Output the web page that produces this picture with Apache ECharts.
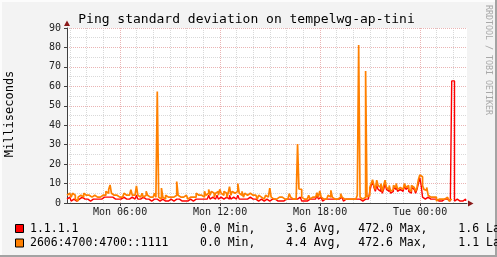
<!DOCTYPE html>
<html><head><meta charset="utf-8">
<script src="https://cdn.jsdelivr.net/npm/echarts/dist/echarts.min.js"></script>
<style>html,body{margin:0;padding:0;background:#f3f3f3}#c{width:497px;height:257px}</style>
</head><body><div id="c"></div>
<script>
// time axis: hours since Mon 00:00; samples every 5 minutes starting Mon 02:49
const startHour = 2 + 49 / 60;
const stepHours = 5 / 60;
const spanHours = 24;

const ping1111 = [
  2,3,2,1,2,3,1,1,2,2,3,2,2,3,2,2,1,2,2,1,2,2,2,1,
  2,2,3,2,3,2,3,4,3,2,2,3,2,1,2,2,3,2,2,1,2,3,3,2,
  2,3,4,2,2,1,3,2,2,3,2,2,1,2,2,3,2,2,1,1,2,1,1,2,
  1,1,2,2,1,1,2,3,2,1,1,2,1,2,1,1,2,2,1,1,2,2,2,1,
  2,3,2,3,2,3,4,2,3,2,2,3,4,2,3,3,2,3,3,2,2,4,2,3,
  3,2,3,4,2,2,3,2,3,2,2,3,3,2,1,2,2,1,2,2,1,1,2,2,
  2,1,2,2,1,2,1,1,2,1,2,1,1,2,3,2,2,2,1,2,1,2,2,3,
  2,1,1,2,1,2,2,1,2,1,2,3,4,2,3,2,1,2,1,2,3,2,3,2,
  1,2,1,2,2,3,2,1,2,1,2,1,2,1,2,1,2,2,2,2,1,1,2,2,
  2,3,6,9,11,8,6,9,7,6,8,5,7,10,7,6,8,5,6,8,7,9,6,7,
  8,6,7,9,7,8,6,5,8,7,6,5,7,10,13,9,3,2,2,3,2,2,1,2,
  1,2,1,1,2,1,1,2,1,2,1,1,1,62.8,62.8,1,2,1,1,2,1,1,2,1
];
const ping2606 = [
  4,5,4,3,5,4,2,1,3,4,4,3,5,4,3,4,3,3,2,4,3,3,4,3,
  3,4,5,4,6,5,7,9.3,5,4,3,4,5,3,4,3,4,5,4,3,4,5,6.8,4,
  4,5,8.8,4,3,4,5,3,4,6,4,3,4,3,4,5,3,57.3,3,2,7.7,3,2,4,
  3,2,3,4,3,2,4,11,4,3,2,3,2,4,3,2,3,4,3,2,3,5,4,3,
  4,5,3,6,4,5,7,4,6,5,3,5,6,4,7,5,4,6,5,3,5,8.4,4,6,
  5,4,6,10,5,4,6,3,5,4,3,5,6,4,3,4,3,2,4,3,3,2,3,4,
  3,2,7.7,3,2,3,2,2,3,2,3,2,2,3,2,3,4.8,3,2,3,2,3,30.3,7.2,
  7,3,2,3,2,3,4,2,3,2,3,3,5.3,3,6.2,3,2,3,2,3,4,3,6.5,3,
  2,3,2,3,3,4.8,3,2,3,2,3,2,3,2,3,2,3,4,81.3,3,2,2,3,67.9,
  3,4,8,10,12,9,7,11.7,9,8,10,6,9,11.7,8,7,9,6,7,9,8,10,7,8,
  9,7,8,10,8,9,7,6,9,8,7,6,8,12,14.4,13.5,9,7,6.5,8,4,3,2,3,
  2,3,1,2,3,2,1,2,2,3,2,1,2,null,null,null,null,null,null,null,null,null,null,null
];

const xTickLabels = { 6: 'Mon 06:00', 12: 'Mon 12:00', 18: 'Mon 18:00', 24: 'Tue 00:00' };
const seriesNames = ['1.1.1.1', '2606:4700:4700::1111'];
const seriesColors = ['#ff0000', '#ff8000'];
const statMin = ['0.0', '0.0'];
const statAvg = ['3.6', '4.4'];
const statMax = ['472.0', '472.6'];
const statLast = ['1.6', '1.1'];
const titleText = 'Ping standard deviation on tempelwg-ap-tini';
const yAxisTitle = 'Milliseconds';
const sideText = 'RRDTOOL / TOBI OETIKER';

const MONO = '"DejaVu Sans Mono", monospace';
const toPairs = arr => arr.map((v, i) => [startHour + i * stepHours, v === null ? '-' : v]);

const legendRows = [229, 243.5];
const graphic = [
  { type: 'rect', shape: { x: 0, y: 0, width: 497, height: 2 }, style: { fill: '#fcfcfc' }, silent: true },
  { type: 'rect', shape: { x: 0, y: 0, width: 2, height: 257 }, style: { fill: '#fcfcfc' }, silent: true },
  { type: 'rect', shape: { x: 0, y: 255, width: 497, height: 2 }, style: { fill: '#a3a3a3' }, silent: true },
  { type: 'rect', shape: { x: 495, y: 0, width: 2, height: 257 }, style: { fill: '#a3a3a3' }, silent: true },
  { type: 'text', x: 246.5, y: 19.5, style: { text: titleText, font: '13px ' + MONO, fill: '#000', textAlign: 'center', textVerticalAlign: 'middle', align: 'center', verticalAlign: 'middle' } },
  { type: 'text', x: 10, y: 114, rotation: Math.PI / 2, style: { text: yAxisTitle, font: '12px ' + MONO, fill: '#000', textAlign: 'center', textVerticalAlign: 'middle', align: 'center', verticalAlign: 'middle' } },
  { type: 'text', x: 488.5, y: 60, rotation: -Math.PI / 2, style: { text: sideText, font: '8.3px ' + MONO, fill: '#a8a8a8', textAlign: 'center', textVerticalAlign: 'middle', align: 'center', verticalAlign: 'middle' } },
  { type: 'polygon', shape: { points: [[64, 26], [70, 26], [67, 20.5]] }, style: { fill: '#8b1a1a' }, z: 10 },
  { type: 'polygon', shape: { points: [[468, 200.5], [468, 206.5], [473.5, 203.5]] }, style: { fill: '#8b1a1a' }, z: 10 }
];
seriesNames.forEach((name, k) => {
  const cy = legendRows[k];
  graphic.push({ type: 'rect', shape: { x: 15.5, y: cy - 4.5, width: 8, height: 8 }, style: { fill: seriesColors[k], stroke: '#000', lineWidth: 1 } });
  const pieces = [[30, name], [200, statMin[k] + ' Min,'], [286, statAvg[k] + ' Avg,'], [358.3, statMax[k] + ' Max,'], [458.3, statLast[k] + ' Last']];
  pieces.forEach(([x, t]) => graphic.push({ type: 'text', x: x, y: cy, style: { text: t, font: '11.5px ' + MONO, fill: '#000', textAlign: 'left', textVerticalAlign: 'middle', align: 'left', verticalAlign: 'middle' } }));
});

const chart = echarts.init(document.getElementById('c'), null, { renderer: 'canvas' });
chart.setOption({
  animation: false,
  backgroundColor: '#f3f3f3',
  grid: { left: 67, top: 28, width: 400, height: 175, show: true, backgroundColor: '#ffffff', borderWidth: 0 },
  xAxis: [
    { type: 'value', position: 'top', min: startHour, max: startHour + spanHours, minInterval: 1, maxInterval: 1,
      axisLine: { show: false }, axisTick: { show: false }, axisLabel: { show: false },
      splitLine: { show: true, showMaxLine: false, lineStyle: { color: '#d9d9d9', width: 1, type: [1, 1] } } },
    { type: 'value', position: 'bottom', min: startHour, max: startHour + spanHours, minInterval: 6, maxInterval: 6, z: 2,
      axisLine: { show: true, onZero: false, lineStyle: { color: '#404040', width: 1 } },
      axisTick: { show: true, length: 3, lineStyle: { color: '#404040' } },
      axisLabel: { show: true, showMinLabel: false, showMaxLabel: false, margin: 4, fontFamily: MONO, fontSize: 10, color: '#222',
        formatter: v => (Math.abs(v - Math.round(v)) < 1e-6 ? (xTickLabels[Math.round(v)] || '') : '') },
      splitLine: { show: true, showMaxLine: false, lineStyle: { color: '#eab4b4', width: 1, type: [1, 1] } } }
  ],
  yAxis: [
    { type: 'value', position: 'right', min: 0, max: 90, interval: 5,
      axisLine: { show: false }, axisTick: { show: false }, axisLabel: { show: false },
      splitLine: { show: true, lineStyle: { color: '#d9d9d9', width: 1, type: [1, 1] } } },
    { type: 'value', position: 'left', min: 0, max: 90, interval: 10, z: 2,
      axisLine: { show: true, onZero: false, lineStyle: { color: '#404040', width: 1 } },
      axisTick: { show: true, length: 3, lineStyle: { color: '#404040' } },
      axisLabel: { margin: 6, fontFamily: MONO, fontSize: 10, color: '#222' },
      splitLine: { show: true, lineStyle: { color: '#eab4b4', width: 1, type: [1, 1] } } }
  ],
  series: [
    { type: 'line', name: seriesNames[0], data: toPairs(ping1111), xAxisIndex: 1, yAxisIndex: 1, step: 'end',
      showSymbol: false, symbol: 'none', lineStyle: { color: seriesColors[0], width: 1.4 }, z: 3 },
    { type: 'line', name: seriesNames[1], data: toPairs(ping2606), xAxisIndex: 1, yAxisIndex: 1, step: 'end',
      showSymbol: false, symbol: 'none', connectNulls: false, lineStyle: { color: seriesColors[1], width: 1.7 }, z: 4 }
  ],
  graphic: graphic
});
</script>
</body></html>
